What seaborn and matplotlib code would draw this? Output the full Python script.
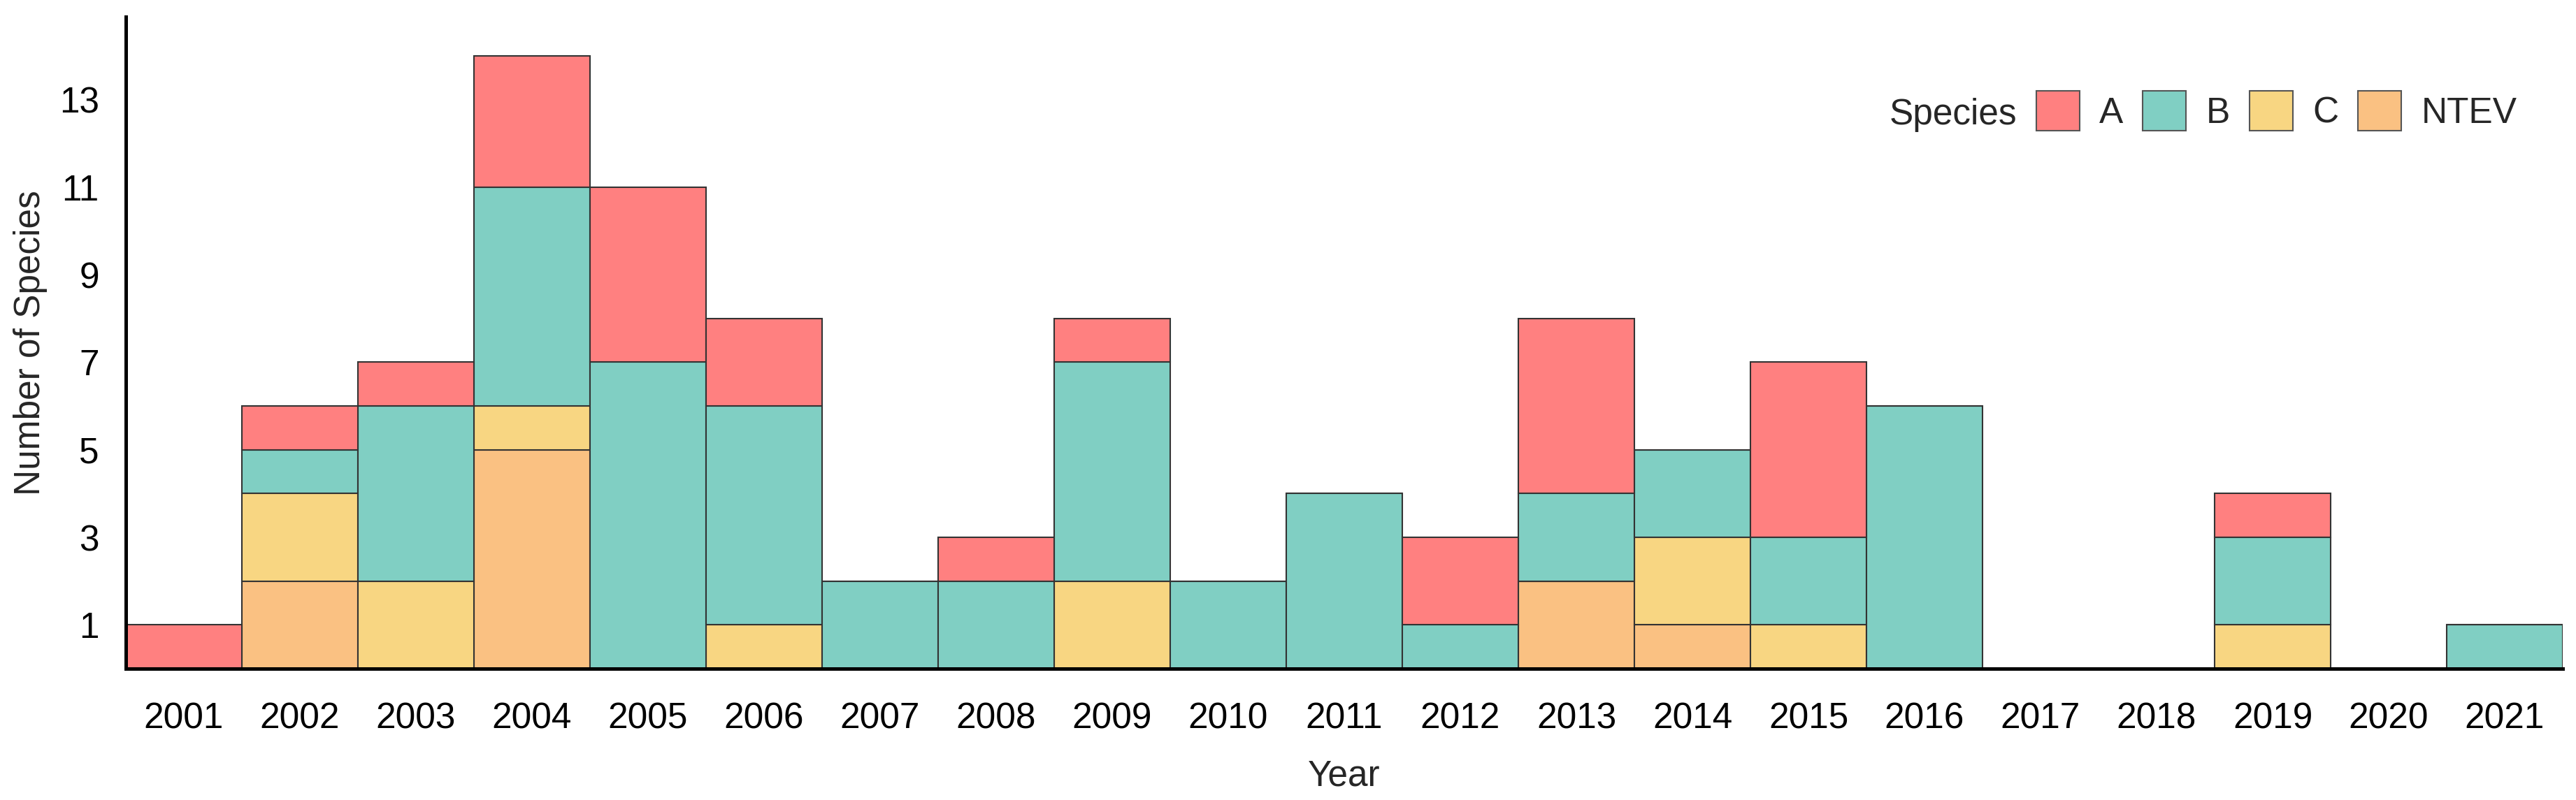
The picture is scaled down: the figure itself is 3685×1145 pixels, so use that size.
import numpy as np
import pandas as pd
import matplotlib
matplotlib.use("Agg")
import matplotlib.pyplot as plt
from matplotlib.patches import Patch
import seaborn as sns

years = list(range(2001, 2022))
species = ["A", "B", "C", "NTEV"]
count_A = [1, 1, 1, 3, 4, 2, 0, 1, 1, 0, 0, 2, 4, 0, 4, 0, 0, 0, 1, 0, 0]
count_B = [0, 1, 4, 5, 7, 5, 2, 2, 5, 2, 4, 1, 2, 2, 2, 6, 0, 0, 2, 0, 1]
count_C = [0, 2, 2, 1, 0, 1, 0, 0, 2, 0, 0, 0, 0, 2, 1, 0, 0, 0, 1, 0, 0]
count_NTEV = [0, 2, 0, 5, 0, 0, 0, 0, 0, 0, 0, 0, 2, 1, 0, 0, 0, 0, 0, 0, 0]
colors = ["#FF8080", "#80CFC3", "#F8D682", "#FAC182"]
y_ticks = [1, 3, 5, 7, 9, 11, 13]

rows = []
for sp, counts in zip(species, [count_A, count_B, count_C, count_NTEV]):
    for yr, c in zip(years, counts):
        rows.append({"Year": yr, "Species": sp, "Count": c})
df = pd.DataFrame(rows)

sns.set_theme(style="white")
plt.rcParams["font.family"] = ["Liberation Sans Narrow", "Liberation Sans", "DejaVu Sans"]

fig = plt.figure(figsize=(36.85, 11.45), dpi=100)
ax = fig.add_axes([0.04885, 0.16419, 0.94600, 0.81528])

sns.histplot(data=df, x="Year", weights="Count", hue="Species", hue_order=species,
             multiple="stack", discrete=True, shrink=1,
             palette=dict(zip(species, colors)), edgecolor="#333333", linewidth=1.5,
             alpha=1, ax=ax, legend=False)

ax.set_xlim(2000.5, 2021.5)
ax.set_ylim(0, 14.9)
ax.set_xticks(years)
ax.set_xticklabels([str(y) for y in years])
ax.set_yticks(y_ticks)
ax.set_yticklabels([str(v) for v in y_ticks])

fs = 37
ax.tick_params(axis="x", length=18, width=5, color="#333333", pad=16, labelsize=fs, labelcolor="black")
ax.tick_params(axis="y", length=14.5, width=5, color="#333333", pad=13, labelsize=fs, labelcolor="black")
ax.set_xlabel("Year", fontsize=fs, labelpad=24)
ax.set_ylabel("Number of Species", fontsize=fs)
ax.yaxis.set_label_coords((68 - 180) / 3486, 0.5)

for s in ["top", "right"]:
    ax.spines[s].set_visible(False)
for s in ["left", "bottom"]:
    ax.spines[s].set_color("black")
    ax.spines[s].set_linewidth(3.6)
ax.grid(False)

handles = [Patch(facecolor=c, edgecolor="#555555", linewidth=1.5, label=s) for s, c in zip(species, colors)]
fig.text(2885 / 3685, 1 - 178 / 1145, "Species", ha="right", va="baseline", fontsize=fs)
fig.legend(handles=handles, loc="center left", bbox_to_anchor=(2913 / 3685, 1 - 158.5 / 1145),
           ncol=4, frameon=False, fontsize=fs, handlelength=1.2, handleheight=1.35,
           handletextpad=0.55, columnspacing=0.55, borderpad=0, borderaxespad=0)

fig.savefig("out.png", dpi=100)
